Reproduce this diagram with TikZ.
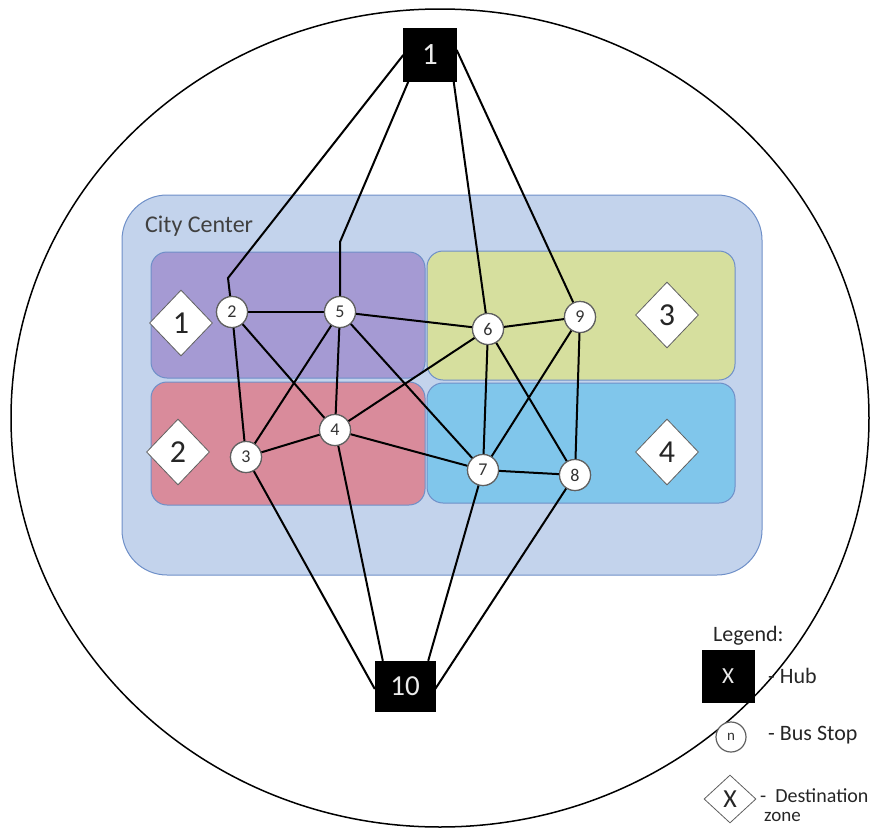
\documentclass[tikz,border=0pt]{standalone}
\usepackage{fontspec}
\setmainfont{Carlito}
\usetikzlibrary{shapes.geometric}
\definecolor{cityfill}{HTML}{C3D3EC}
\definecolor{cityline}{HTML}{6E8FC8}
\definecolor{zonepurple}{HTML}{A59AD3}
\definecolor{zonepink}{HTML}{D98B9B}
\definecolor{zonegreen}{HTML}{D6DF9E}
\definecolor{zoneblue}{HTML}{80C6EB}
\definecolor{stopline}{HTML}{606060}
\tikzset{
  city/.style={draw=cityline, line width=1pt, fill=cityfill, rounded corners=45pt},
  zone/.style={draw=cityline, line width=1pt, rounded corners=16pt},
  hub/.style={draw=black, fill=black, text=white!92!black, minimum width=53pt, minimum height=53pt, inner sep=0pt, font=\fontsize{31}{33}\selectfont},
  stop/.style={circle, draw=stopline, line width=1.2pt, fill=white, minimum size=31pt, inner sep=0pt, text=black!80, font=\fontsize{18}{20}\selectfont},
  dest/.style={diamond, draw=stopline, line width=0.8pt, fill=white, minimum width=63pt, minimum height=66pt, inner sep=0pt, text=black!85, font=\fontsize{32}{34}\selectfont},
  link/.style={line width=2pt, black},
  legtext/.style={anchor=west, inner sep=0pt, text=black!85, font=\fontsize{22}{24}\selectfont},
}
\begin{document}
\begin{tikzpicture}[x=1pt, y=-1pt]
  \useasboundingbox (0,0) rectangle (879,830);
  % outer region
  \draw[line width=1.5pt] (440,418) ellipse [x radius=429, y radius=409];
  % city centre and its four zones
  \draw[city] (122,195) rectangle (762,575);
  \node[anchor=west, inner sep=0pt, text=black!75, font=\fontsize{24}{26}\selectfont] (citylabel) at (145,226) {City Center};
  \draw[zone, fill=zonepurple] (151,252) rectangle (425,378);
  \draw[zone, fill=zonepink] (151,382) rectangle (425,505);
  \draw[zone, fill=zonegreen] (427,251) rectangle (735,380);
  \draw[zone, fill=zoneblue] (427,383) rectangle (735,503);
  % destination zones
  \node[dest] (d1) at (181,323) {1};
  \node[dest] (d2) at (178,452) {2};
  \node[dest] (d3) at (667,315) {3};
  \node[dest] (d4) at (667,452) {4};
  % hubs
  \node[hub] (h1) at (430,55) {1};
  \node[hub, minimum width=60pt, minimum height=50pt, font=\fontsize{29}{31}\selectfont] (h10) at (405,686) {10};
  % bus stops
  \node[stop] (s2) at (232,312) {2};
  \node[stop] (s5) at (340,312) {5};
  \node[stop] (s4) at (335,430) {4};
  \node[stop] (s3) at (246,457) {3};
  \node[stop] (s6) at (488,329) {6};
  \node[stop] (s9) at (580,317) {9};
  \node[stop] (s7) at (483,470) {7};
  \node[stop] (s8) at (575,475) {8};
  % bend points of the hub feeders
  \coordinate (b2) at (228,278);
  \coordinate (b5) at (340,242);
  % connectors
  \draw[link] (s2) -- (b2) -- (h1.west);
  \draw[link] (s5) -- (b5) -- ([xshift=5pt]h1.south west);
  \draw[link] ([xshift=-3pt]h1.south east) -- (s6);
  \draw[link] ([yshift=5pt]h1.east) -- (s9);
  \draw[link] (s2) -- (s5);
  \draw[link] (s2) -- (s4);
  \draw[link] (s2) -- (s3);
  \draw[link] (s5) -- (s3);
  \draw[link] (s5) -- (s4);
  \draw[link] (s5) -- (s6);
  \draw[link] (s5) -- (s7);
  \draw[link] (s4) -- (s3);
  \draw[link] (s4) -- (s6);
  \draw[link] (s4) -- (s7);
  \draw[link] (s6) -- (s9);
  \draw[link] (s6) -- (s7);
  \draw[link] (s6) -- (s8);
  \draw[link] (s9) -- (s7);
  \draw[link] (s9) -- (s8);
  \draw[link] (s7) -- (s8);
  \draw[link] (s3) -- ([yshift=-3pt]h10.west);
  \draw[link] (s4) -- ([xshift=8pt]h10.north west);
  \draw[link] (s7) -- ([xshift=-7pt]h10.north east);
  \draw[link] (s8) -- ([yshift=-3pt]h10.east);
  % redraw nodes above the connectors
  \node[stop] at (s2) {2};
  \node[stop] at (s5) {5};
  \node[stop] at (s4) {4};
  \node[stop] at (s3) {3};
  \node[stop] at (s6) {6};
  \node[stop] at (s9) {9};
  \node[stop] at (s7) {7};
  \node[stop] at (s8) {8};
  \node[hub] at (h1) {1};
  \node[hub, minimum width=60pt, minimum height=50pt, font=\fontsize{29}{31}\selectfont] at (h10) {10};
  % legend
  \node[legtext] (legtitle) at (713,636) {Legend:};
  \node[hub, minimum width=52pt, minimum height=52pt, font=\fontsize{23}{25}\selectfont] (lhub) at (728,676) {X};
  \node[legtext] (lhubtext) at (768,676) {- Hub};
  \node[stop, minimum size=30pt, font=\fontsize{15}{17}\selectfont] (lstop) at (731,737) {n};
  \node[legtext] (lstoptext) at (768,735) {- Bus Stop};
  \node[dest, minimum width=52pt, minimum height=48pt, font=\fontsize{26}{28}\selectfont] (ldest) at (730,799) {X};
  \node[legtext, font=\fontsize{20}{22}\selectfont] (ldesttext) at (760,796) {-\ \ Destination};
  \node[legtext, font=\fontsize{19}{21}\selectfont] (lzone) at (764,817) {zone};
\end{tikzpicture}
\end{document}
